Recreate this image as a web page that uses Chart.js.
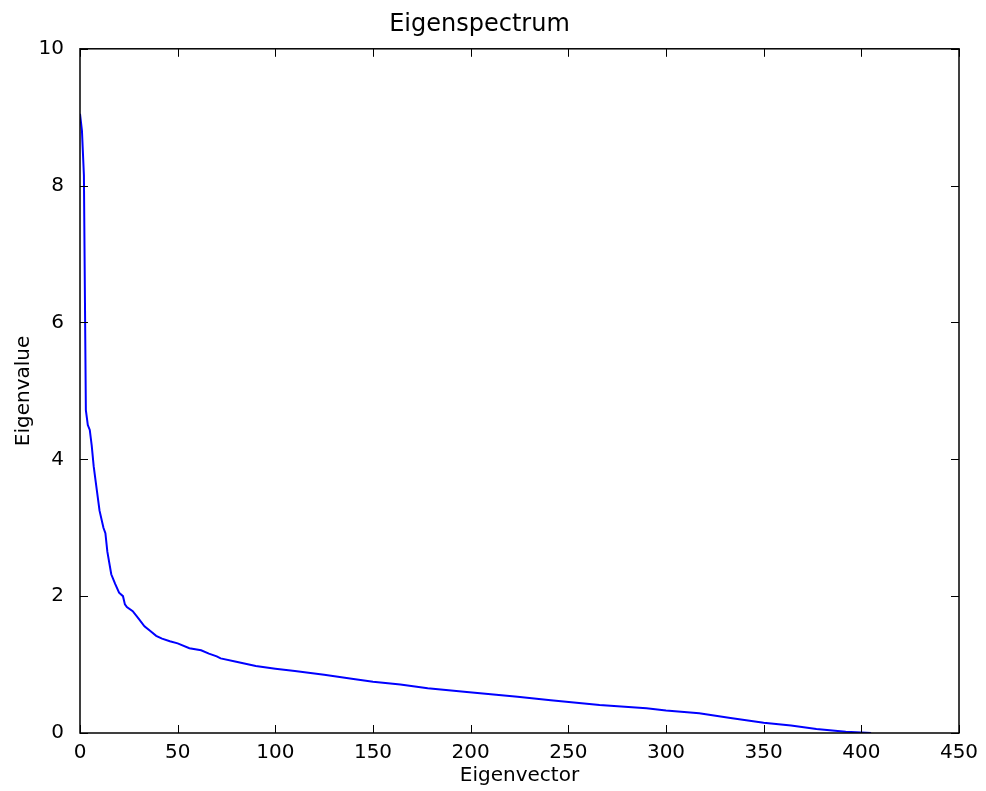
<!DOCTYPE html>
<html>
<head>
<meta charset="utf-8">
<script src="https://cdn.jsdelivr.net/npm/chart.js@4/dist/chart.umd.min.js"></script>
<style>
    body { margin: 0; background: #fff; }
    #wrap { width: 986px; height: 791px; }
</style>
</head>
<body>
<div id="wrap"><canvas id="eig"></canvas></div>
<script>
// eigenvector index vs eigenvalue
const eigIndex = [0, 1, 2, 3, 4, 5, 6, 7, 8, 10, 12, 13, 14, 16, 18, 20, 22, 23, 24, 27,
    30, 33, 36, 39, 42, 46, 50, 56, 62, 66, 70, 72, 80, 90, 100, 110, 125, 140, 150, 164,
    178, 198, 224, 241, 266, 290, 300, 317, 333, 350, 364, 377, 392, 400, 405];
const eigValue = [9.05, 8.8, 8.15, 4.72, 4.5, 4.43, 4.2, 3.9, 3.68, 3.25, 3.0, 2.92, 2.65, 2.32, 2.18, 2.05, 2.0, 1.88, 1.84, 1.78,
    1.67, 1.56, 1.49, 1.42, 1.38, 1.34, 1.31, 1.24, 1.21, 1.16, 1.12, 1.09, 1.04, 0.98, 0.94, 0.905, 0.85, 0.79, 0.75, 0.71,
    0.655, 0.6, 0.53, 0.48, 0.41, 0.36, 0.33, 0.29, 0.22, 0.15, 0.11, 0.06, 0.02, 0.008, 0.0];

const xTicks = [0, 50, 100, 150, 200, 250, 300, 350, 400, 450];
const yTicks = [0, 2, 4, 6, 8, 10];

const font = 'DejaVu Sans';

// matplotlib style frame with inward ticks on all four sides
const framePlugin = {
    id: 'frame',
    afterDraw(chart) {
        const { ctx, chartArea: a, scales } = chart;
        const len = 8;
        ctx.save();
        ctx.strokeStyle = '#000';
        ctx.lineWidth = 1;
        ctx.beginPath();
        xTicks.forEach(v => {
            const px = Math.round(scales.x.getPixelForValue(v)) + 0.5;
            ctx.moveTo(px, a.bottom); ctx.lineTo(px, a.bottom - len);
            ctx.moveTo(px, a.top); ctx.lineTo(px, a.top + len);
        });
        yTicks.forEach(v => {
            const py = Math.round(scales.y.getPixelForValue(v)) + 0.5;
            ctx.moveTo(a.left, py); ctx.lineTo(a.left + len, py);
            ctx.moveTo(a.right, py); ctx.lineTo(a.right - len, py);
        });
        ctx.stroke();
        ctx.lineWidth = 1.5;
        ctx.strokeRect(a.left, a.top, a.right - a.left, a.bottom - a.top);
        ctx.restore();
    }
};

new Chart('eig', {
    type: 'scatter',
    data: {
        datasets: [{
            data: eigIndex.map((x, i) => ({ x, y: eigValue[i] })),
            showLine: true,
            borderColor: '#0000ff',
            borderWidth: 2,
            pointRadius: 0,
            tension: 0
        }]
    },
    options: {
        responsive: true,
        maintainAspectRatio: false,
        animation: false,
        layout: { padding: { left: 0, right: 27, top: 0, bottom: 0 } },
        plugins: {
            legend: { display: false },
            tooltip: { enabled: false },
            title: {
                display: true,
                text: 'Eigenspectrum',
                color: '#000',
                font: { family: font, size: 24, weight: 'normal' },
                padding: { top: 10, bottom: 10 }
            }
        },
        scales: {
            x: {
                type: 'linear',
                min: 0,
                max: 450,
                afterFit: s => { s.height = 58; },
                afterBuildTicks: s => { s.ticks = xTicks.map(v => ({ value: v })); },
                ticks: { color: '#000', font: { family: font, size: 20 }, padding: 0, maxRotation: 0 },
                grid: { display: false },
                border: { display: false },
                title: {
                    display: true,
                    text: 'Eigenvector',
                    color: '#000',
                    font: { family: font, size: 20 },
                    padding: { top: 0, bottom: 3 }
                }
            },
            y: {
                min: 0,
                max: 10,
                afterFit: s => { s.width = 80; },
                afterBuildTicks: s => { s.ticks = yTicks.map(v => ({ value: v })); },
                ticks: { color: '#000', font: { family: font, size: 20 }, padding: 8 },
                grid: { display: false },
                border: { display: false },
                title: {
                    display: true,
                    text: 'Eigenvalue',
                    color: '#000',
                    font: { family: font, size: 20 },
                    padding: { top: 12, bottom: 0 }
                }
            }
        }
    },
    plugins: [framePlugin]
});
</script>
</body>
</html>
